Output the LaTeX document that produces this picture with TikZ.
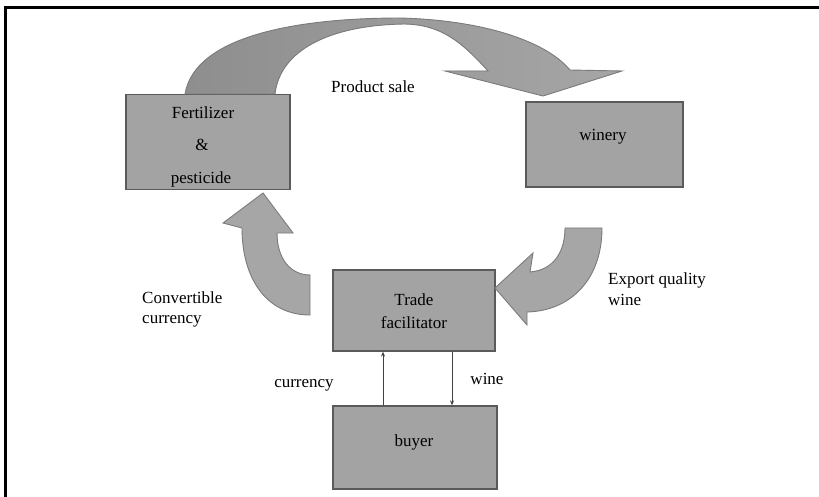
\documentclass[tikz,border=0pt]{standalone}
\usepackage{fontspec}
\setmainfont{Liberation Serif}
\usetikzlibrary{arrows.meta}
\definecolor{boxfill}{HTML}{A3A3A3}
\definecolor{boxline}{HTML}{5A5A5A}
\definecolor{arrfill}{HTML}{A6A6A6}
\definecolor{arrdark}{HTML}{8E8E8E}
\tikzset{
  box/.style={draw=boxline, line width=1.3pt, fill=boxfill, rectangle, inner sep=0pt},
  txt/.style={font=\fontsize{17}{20}\selectfont, text=black, inner sep=0pt, align=left},
  bigarrow/.style={draw=boxline!80, line width=0.9pt, fill=arrfill},
  thin/.style={draw=black!75, line width=0.8pt, -{Stealth[length=5pt,width=4pt]}},
  frameline/.style={line width=3pt, black}
}
\begin{document}
\begin{tikzpicture}[x=1pt,y=-1pt]
\useasboundingbox (0,0) rectangle (819,497);
\fill[white] (0,0) rectangle (819,497);
% frame
\draw[frameline] (5,497) -- (5,8) -- (819,8);

% boxes
\node[box, minimum width=164pt, minimum height=95pt] (fert) at (208,142) {};
\node[box, minimum width=157pt, minimum height=85pt] (win) at (604.5,144.5) {};
\node[box, minimum width=162pt, minimum height=81pt] (fac) at (414,310.5) {};
\node[box, minimum width=164pt, minimum height=83pt] (buyer) at (415,447.5) {};

% box texts
\node[txt] (tfert1) at (203,113) {Fertilizer};
\node[txt] (tfert2) at (202,145) {\&};
\node[txt] (tfert3) at (201,179) {pesticide};
\node[txt] (twin) at (603,137) {winery};
\node[txt] (tfac1) at (414,300) {Trade};
\node[txt] (tfac2) at (414,323) {facilitator};
\node[txt] (tbuy) at (414,442) {buyer};

% top curved arrow (product sale)
\path[bigarrow, left color=arrdark, right color=arrfill]
  (185,94) .. controls (195,35) and (300,18) .. (400,18)
  .. controls (480,20) and (545,40) .. (570,70)
  -- (622,71) -- (543,96) -- (445,71) -- (488,71)
  .. controls (460,40) and (440,25) .. (405,24)
  .. controls (330,25) and (280,50) .. (275,94) -- cycle;

% right curved arrow (export quality wine)
\path[bigarrow]
  (565,228) -- (602,228)
  .. controls (602,280) and (570,311) .. (527,312)
  -- (527,325) -- (495,288) -- (533,253) -- (530,272)
  .. controls (555,270) and (565,250) .. (565,228) -- cycle;

% left curved arrow (convertible currency)
\path[bigarrow]
  (263,193) -- (293,233) -- (277,233)
  .. controls (277,258) and (290,275) .. (310,275)
  -- (310,315)
  .. controls (266,315) and (242,278) .. (242,228)
  -- (223,223) -- cycle;

% thin arrows between facilitator and buyer
\coordinate (cx) at (383,0);
\coordinate (wx) at (452,0);
\draw[thin] (buyer.north -| cx) -- (fac.south -| cx);
\draw[thin] (fac.south -| wx) -- (buyer.north -| wx);

% labels
\node[txt] (lprod) at (373,87) {Product sale};
\node[txt, anchor=west] (lexp1) at (608,280) {Export quality};
\node[txt, anchor=west] (lexp2) at (608,300) {wine};
\node[txt, anchor=west] (lconv1) at (142,298) {Convertible};
\node[txt, anchor=west] (lconv2) at (142,321) {currency};
\node[txt] (lcur) at (304,385) {currency};
\node[txt] (lwine) at (487,379) {wine};
\end{tikzpicture}
\end{document}
